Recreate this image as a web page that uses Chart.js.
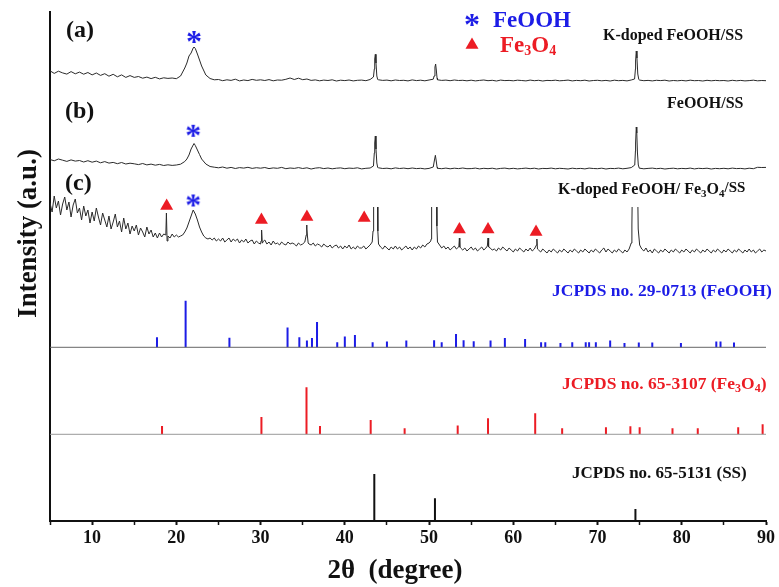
<!DOCTYPE html>
<html>
<head>
<meta charset="utf-8">
<script src="https://cdn.jsdelivr.net/npm/chart.js@4.4.1/dist/chart.umd.min.js"></script>
<style>
  html, body { margin: 0; padding: 0; background: #fff; }
  #wrap { width: 779px; height: 587px; position: relative; }
</style>
</head>
<body>
<div id="wrap"><canvas id="xrdChart"></canvas></div>
<script>
// 2-theta scan grids (degrees)
const scanStart = 5;
const stepAB = 0.5;
const stepC = 0.25;

// (a) K-doped FeOOH/SS, one value per 0.5 deg from 5 to 90
const patternA = [
  450.2, 447.6, 449.8, 448.1, 446.9, 449.4, 447.2, 448.9, 446.8, 448.5,
  446.1, 448.0, 445.6, 447.3, 444.8, 446.7, 444.2, 446.1, 443.6, 445.4,
  443.6, 444.5, 442.8, 443.9, 442.4, 443.7, 442.1, 443.2, 442.6, 443.0,
  442.3, 445.0, 453.0, 465.0, 473.0, 467.0, 455.0, 446.0, 442.5, 441.2,
  441.5, 440.3, 441.2, 440.6, 441.8, 440.1, 441.0, 440.4, 441.6, 440.7,
  441.2, 440.5, 441.4, 440.2, 441.0, 440.8, 441.7, 443.0, 441.5, 442.8,
  441.3, 442.0, 440.6, 441.1, 440.2, 440.9, 440.5, 441.2, 440.0, 440.8,
  440.4, 441.0, 440.1, 440.7, 440.9, 440.3, 441.5, 452.0, 441.2, 440.6,
  440.9, 440.2, 441.0, 440.5, 440.7, 440.1, 441.1, 440.4, 440.8, 440.2,
  441.0, 441.8, 441.2, 440.6, 440.9, 440.3, 441.0, 440.5, 440.7, 440.2,
  440.8, 440.1, 440.6, 441.0, 440.3, 440.7, 440.0, 440.9, 440.4, 440.6,
  440.2, 440.8, 440.5, 440.1, 440.9, 440.3, 440.7, 440.0, 440.6, 440.4,
  440.8, 440.2, 440.5, 440.9, 440.1, 440.6, 440.3, 440.8, 440.0, 440.5,
  440.7, 440.2, 440.6, 440.0, 440.8, 440.3, 440.6, 440.1, 441.0, 452.0,
  440.9, 440.3, 440.6, 440.1, 440.7, 440.4, 440.8, 440.0, 440.5, 440.2,
  440.6, 440.1, 440.8, 440.3, 440.5, 440.0, 440.7, 440.2, 440.6, 440.3,
  440.5, 440.0, 440.7, 440.2, 440.6, 440.1, 440.4, 440.8, 440.2, 440.5,
  440.3
];
const peaksA = [
  [21.25, 458], [21.75, 468], [22.1, 474], [22.25, 472.5], [22.75, 461],
  [43.4, 444], [43.55, 462], [43.62, 466.7], [43.7, 458], [43.8, 445], [43.9, 441.5],
  [50.6, 445], [50.7, 454], [50.78, 457], [50.86, 451], [50.95, 443],
  [74.4, 442], [74.52, 460], [74.6, 470], [74.68, 463], [74.78, 447], [74.9, 441.5]
];

// (b) FeOOH/SS
const patternB = [
  361.5, 360.2, 362.0, 360.8, 359.6, 361.1, 359.9, 360.5, 359.0, 360.3,
  358.8, 359.9, 358.2, 359.4, 357.9, 358.6, 357.3, 358.5, 357.0, 357.8,
  357.2, 356.4, 357.5, 356.1, 356.9, 355.8, 356.6, 355.5, 356.2, 355.6,
  356.0, 356.8, 359.5, 366.0, 376.0, 371.0, 362.0, 357.0, 354.5, 353.8,
  353.2, 354.0, 352.8, 353.6, 352.5, 353.4, 352.9, 353.7, 352.6, 353.3,
  352.8, 353.5, 352.4, 353.1, 352.7, 353.6, 352.3, 353.0, 352.6, 353.4,
  352.5, 353.2, 352.0, 352.9, 353.3, 352.4, 353.0, 352.2, 352.8, 353.1,
  352.3, 352.9, 352.6, 353.2, 352.1, 352.7, 353.0, 368.0, 353.2, 352.5,
  352.8, 352.2, 353.1, 352.5, 352.9, 352.3, 353.0, 352.4, 352.7, 352.1,
  352.6, 354.0, 352.7, 352.3, 352.9, 352.2, 352.8, 352.4, 353.0, 352.3,
  352.4, 352.9, 352.1, 352.7, 352.3, 352.8, 352.0, 352.6, 352.9, 352.2,
  352.7, 352.1, 352.5, 352.9, 352.3, 352.8, 352.0, 352.6, 352.4, 352.9,
  352.2, 352.7, 352.4, 352.0, 352.8, 352.3, 352.6, 352.1, 352.9, 352.5,
  352.3, 352.8, 352.0, 352.6, 352.4, 352.9, 352.2, 352.7, 353.4, 370.0,
  352.8, 352.2, 352.6, 352.9, 352.3, 352.7, 352.0, 352.5, 352.8, 352.2,
  352.6, 352.3, 352.9, 352.1, 352.7, 352.4, 352.8, 352.0, 352.6, 352.3,
  352.7, 352.2, 352.9, 352.4, 352.6, 352.1, 352.8, 352.3, 353.7, 353.5,
  353.6
];
const peaksB = [
  [21.25, 362], [21.75, 372], [22.1, 377.5], [22.25, 375.5], [22.75, 366.5],
  [43.4, 355], [43.55, 378], [43.62, 385], [43.7, 372], [43.8, 358], [43.9, 353.5],
  [50.62, 360], [50.75, 365.7], [50.85, 360], [50.95, 354],
  [74.42, 356], [74.52, 378], [74.6, 394], [74.66, 388], [74.74, 368], [74.84, 356], [74.95, 353]
];

// (c) K-doped FeOOH/Fe3O4/SS, one value per 0.25 deg from 5 to 90
const patternC = [
  318, 309, 325, 313,  320, 306, 317, 324,  311, 319, 304, 316,  322, 308, 313, 301,
  315, 305, 311, 298,  309, 300, 313, 304,  296, 308, 301, 294,  305, 292, 299, 307,
  294, 300, 289, 303,  292, 298, 287, 295,  290, 296, 286, 293,  289, 284, 294, 287,
  291, 284, 288, 283,  288, 284, 287, 286,  285, 283, 287, 284,  286, 284, 285, 286,
  289, 293, 299, 305,  311, 307, 301, 294,  289, 285, 283, 282,  283, 281, 283, 280,
  282, 280, 283, 279,  281, 283, 279, 282,  280, 282, 278, 281,  279, 282, 278, 280,
  281, 277, 280, 278,  277, 279, 281, 277,  279, 276, 280, 277,  278, 276, 279, 277,
  276, 279, 277, 278,  277, 275, 278, 276,  277, 279, 292, 277,  276, 278, 275, 277,
  276, 274, 277, 275,  274, 276, 273, 275,  276, 273, 275, 272,  275, 273, 276, 272,
  274, 272, 275, 273,  273, 275, 272, 274,  276, 279, 385, 375,  277, 274, 272, 275,
  273, 271, 274, 272,  275, 272, 274, 271,  273, 275, 272, 274,  271, 274, 272, 275,
  273, 276, 274, 277,  278, 282, 395, 385,  279, 276, 273, 275,  272, 274, 271, 273,
  275, 272, 274, 273,  271, 273, 270, 272,  274, 271, 273, 270,  272, 274, 271, 273,
  283, 273, 271, 272,  270, 273, 271, 274,  272, 270, 273, 271,  269, 272, 270, 273,
  271, 269, 272, 270,  273, 270, 272, 276,  271, 269, 272, 270,  268, 271, 269, 272,
  270, 268, 271, 269,  272, 270, 268, 271,  269, 272, 270, 268,  271, 269, 272, 270,
  268, 271, 269, 272,  270, 268, 271, 273,  269, 272, 270, 268,  271, 269, 272, 270,
  268, 271, 269, 272,  278, 395, 410, 340,  276, 272, 270, 273,  269, 271, 268, 272,
  270, 268, 271, 269,  272, 270, 268, 271,  269, 272, 270, 268,  271, 269, 272, 270,
  268, 271, 269, 272,  270, 268, 271, 269,  272, 270, 268, 271,  269, 272, 270, 268,
  271, 269, 272, 270,  268, 271, 269, 272,  270, 268, 271, 269,  272, 269, 271, 268,
  270, 272, 269, 271,  270
];
const peaksC = [
  [18.82, 308], [18.9, 280],
  [30.05, 280], [30.12, 291], [30.2, 278],
  [35.42, 286], [35.47, 296], [35.56, 285], [35.65, 278],
  [43.35, 290], [43.42, 340], [43.62, 420], [43.85, 340], [43.92, 290],
  [50.2, 280], [50.28, 300], [50.33, 340], [50.6, 420], [50.87, 340], [50.93, 295],
  [53.55, 276], [53.6, 283], [53.65, 274],
  [56.92, 275], [57.07, 274],
  [62.8, 282], [62.87, 272],
  [74.08, 296], [74.14, 340], [74.45, 420], [74.83, 292]
];
// the strong (c) reflections above 40 deg are cut off in the figure
const cutFrom = 40;

// reference patterns: stick positions (deg) and heights, baselines
const feoohBase = 173.7;
const feoohPos = [17.7, 21.1, 26.3, 33.2, 34.6, 35.5, 36.1, 36.7, 39.1, 40.0, 41.2, 43.3, 45.0, 47.3,
  50.6, 51.5, 53.2, 54.1, 55.3, 57.3, 59.0, 61.4, 63.3, 63.8, 65.6, 67.0, 68.6, 69.0, 69.8, 71.5,
  73.2, 74.9, 76.5, 79.9, 84.1, 84.6, 86.2];
const feoohHeight = [10, 46.6, 9.6, 19.7, 10, 6.7, 9.3, 25.3, 5, 10.7, 12.3, 5, 5.7, 6.7,
  7, 5, 13.3, 7, 6, 6.7, 9.3, 8.3, 5, 5, 4.3, 5, 5, 5, 5, 6.7,
  4.3, 4.7, 4.7, 4.3, 5.7, 5.7, 4.7];

const fe3o4Base = 86.7;
const fe3o4Pos = [18.3, 30.1, 35.45, 37.05, 43.07, 47.1, 53.4, 57.0, 62.6, 65.8, 71.0, 73.9, 75.0, 78.9, 81.9, 86.7, 89.6];
const fe3o4Height = [8.3, 17.3, 47, 8.3, 14.3, 6, 8.7, 16, 21, 6, 7, 8, 7, 6, 6, 7, 10];

const ssBase = 0;
const ssPos = [43.5, 50.7, 74.5];
const ssHeight = [47, 22.7, 12];

// phase markers
const fe3o4Marks = [[18.85, 315], [30.1, 301], [35.5, 304], [42.3, 303], [53.6, 291.5], [57.0, 291.5], [62.7, 289]];
const feoohMarks = [[22.1, 484], [22.0, 390.2], [22.0, 320.5]];

const xTicks = [10, 20, 30, 40, 50, 60, 70, 80, 90];

const BLUE = '#1c1ce6';
const RED = '#ec1c24';
const SERIF = '"Liberation Serif", "Times New Roman", serif';

function scanSeries(values, step, extra) {
  const pts = values.map((v, i) => ({ x: scanStart + i * step, y: v }));
  extra.forEach(p => pts.push({ x: p[0], y: p[1] }));
  pts.sort((a, b) => a.x - b.x);
  return pts;
}

function stickSeries(base, pos, height) {
  const pts = [];
  pos.forEach((x, i) => {
    pts.push({ x: x, y: base });
    pts.push({ x: x, y: base + height[i] });
    pts.push({ x: x, y: null });
  });
  return pts;
}

function makeAsterisk(color) {
  const c = document.createElement('canvas');
  c.width = 16; c.height = 16;
  const g = c.getContext('2d');
  g.fillStyle = color;
  g.font = 'bold 32px ' + SERIF;
  const m = g.measureText('*');
  const w = m.actualBoundingBoxLeft + m.actualBoundingBoxRight;
  const h = m.actualBoundingBoxAscent + m.actualBoundingBoxDescent;
  g.fillText('*', (16 - w) / 2 + m.actualBoundingBoxLeft, (16 - h) / 2 + m.actualBoundingBoxAscent);
  return c;
}
const asteriskImg = makeAsterisk(BLUE);

function drawParts(ctx, x, y, parts, color) {
  ctx.fillStyle = color;
  ctx.textAlign = 'left';
  ctx.textBaseline = 'alphabetic';
  parts.forEach(p => {
    ctx.font = 'bold ' + p[1] + 'px ' + SERIF;
    ctx.fillText(p[0], x, y + (p[2] || 0));
    x += ctx.measureText(p[0]).width;
  });
}

const annotations = {
  id: 'annotations',
  afterDraw(chart) {
    const ctx = chart.ctx;
    ctx.save();
    // panel letters
    drawParts(ctx, 66, 37, [['(a)', 24]], '#111');
    drawParts(ctx, 65, 118, [['(b)', 24]], '#111');
    drawParts(ctx, 65, 190, [['(c)', 24]], '#111');
    // sample names
    drawParts(ctx, 603, 39.5, [['K-doped FeOOH/SS', 16]], '#111');
    drawParts(ctx, 667, 108, [['FeOOH/SS', 16]], '#111');
    drawParts(ctx, 558, 193.5, [['K-doped FeOOH/ Fe', 16], ['3', 11, 3], ['O', 16], ['4', 11, 3], ['/SS', 15, -2]], '#111');
    // reference names
    drawParts(ctx, 552, 296, [['JCPDS no. 29-0713 (FeOOH)', 17.5]], BLUE);
    drawParts(ctx, 562, 389, [['JCPDS no. 65-3107 (Fe', 17.5], ['3', 12, 3], ['O', 17.5], ['4', 12, 3], [')', 17.5]], RED);
    drawParts(ctx, 572, 478, [['JCPDS no. 65-5131 (SS)', 17]], '#111');
    // legend
    ctx.drawImage(asteriskImg, 472 - 8, 20 - 8);
    drawParts(ctx, 493, 26.5, [['FeOOH', 23]], BLUE);
    ctx.fillStyle = RED;
    ctx.beginPath();
    ctx.moveTo(472, 45 - 7.5);
    ctx.lineTo(472 + 6.5, 45 + 3.75);
    ctx.lineTo(472 - 6.5, 45 + 3.75);
    ctx.closePath();
    ctx.fill();
    drawParts(ctx, 500, 51.5, [['Fe', 23], ['3', 14, 3], ['O', 23], ['4', 14, 3]], RED);
    // axis titles
    ctx.fillStyle = '#111';
    ctx.font = 'bold 27px ' + SERIF;
    ctx.textAlign = 'center';
    ctx.textBaseline = 'alphabetic';
    ctx.fillText('2\u03b8  (degree)', 395, 578);
    ctx.translate(36, 233.5);
    ctx.rotate(-Math.PI / 2);
    ctx.fillText('Intensity (a.u.)', 0, 0);
    ctx.restore();
  }
};

const traceStyle = { borderColor: '#2a2a2a', borderWidth: 1, pointRadius: 0, tension: 0, spanGaps: false };
const seriesC = scanSeries(patternC, stepC, peaksC);

const ctx = document.getElementById('xrdChart').getContext('2d');
const xrdChart = new Chart(ctx, {
  type: 'line',
  data: {
    datasets: [
      Object.assign({ label: 'K-doped FeOOH/SS', data: scanSeries(patternA, stepAB, peaksA) }, traceStyle),
      Object.assign({ label: 'FeOOH/SS', data: scanSeries(patternB, stepAB, peaksB) }, traceStyle),
      Object.assign({ label: 'K-doped FeOOH/Fe3O4/SS', data: seriesC.filter(p => p.x <= cutFrom) }, traceStyle),
      Object.assign({ label: 'K-doped FeOOH/Fe3O4/SS (cut)', data: seriesC.filter(p => p.x >= cutFrom),
        clip: { left: 0, right: 0, bottom: 0, top: -195 } }, traceStyle),
      { label: 'FeOOH base', data: [{ x: 5, y: feoohBase }, { x: 90, y: feoohBase }],
        borderColor: '#666', borderWidth: 1, pointRadius: 0 },
      { label: 'Fe3O4 base', data: [{ x: 5, y: fe3o4Base }, { x: 90, y: fe3o4Base }],
        borderColor: '#999', borderWidth: 1, pointRadius: 0 },
      { label: 'JCPDS 29-0713', data: stickSeries(feoohBase, feoohPos, feoohHeight),
        borderColor: BLUE, borderWidth: 2, pointRadius: 0, spanGaps: false, borderCapStyle: 'butt' },
      { label: 'JCPDS 65-3107', data: stickSeries(fe3o4Base, fe3o4Pos, fe3o4Height),
        borderColor: RED, borderWidth: 2, pointRadius: 0, spanGaps: false, borderCapStyle: 'butt' },
      { label: 'JCPDS 65-5131', data: stickSeries(ssBase, ssPos, ssHeight),
        borderColor: '#111', borderWidth: 2, pointRadius: 0, spanGaps: false, borderCapStyle: 'butt' },
      { label: 'Fe3O4 marks', type: 'scatter', data: fe3o4Marks.map(p => ({ x: p[0], y: p[1] })),
        showLine: false, pointStyle: 'triangle', pointRadius: 7.5, pointBackgroundColor: RED,
        pointBorderColor: RED, pointBorderWidth: 0 },
      { label: 'FeOOH marks', type: 'scatter', data: feoohMarks.map(p => ({ x: p[0], y: p[1] })),
        showLine: false, pointStyle: asteriskImg, pointRadius: 8 }
    ]
  },
  options: {
    responsive: true,
    maintainAspectRatio: false,
    animation: false,
    events: [],
    layout: { padding: { top: 12, right: 13, left: 0, bottom: 0 } },
    plugins: { legend: { display: false }, tooltip: { enabled: false } },
    scales: {
      x: {
        type: 'linear',
        min: 5,
        max: 90,
        afterFit: function(scale) { scale.height = 66; },
        afterBuildTicks: function(scale) {
          const t = [];
          for (let v = 5; v <= 90; v += 5) t.push({ value: v });
          scale.ticks = t;
        },
        ticks: {
          autoSkip: false,
          maxRotation: 0,
          padding: 3,
          color: '#111',
          font: { family: SERIF, size: 18, weight: 'bold' },
          callback: v => (xTicks.includes(v) ? String(v) : '')
        },
        grid: {
          drawOnChartArea: false,
          drawTicks: true,
          tickLength: 4,
          tickColor: '#111',
          tickWidth: c => (c.tick && xTicks.includes(c.tick.value) ? 2 : 1.5)
        },
        border: { display: true, color: '#111', width: 2 }
      },
      y: {
        type: 'linear',
        min: 0,
        max: 509,
        afterFit: function(scale) { scale.width = 50; },
        ticks: { display: false },
        grid: { drawOnChartArea: false, drawTicks: false },
        border: { display: true, color: '#111', width: 2 }
      }
    }
  },
  plugins: [annotations]
});
</script>
</body>
</html>
